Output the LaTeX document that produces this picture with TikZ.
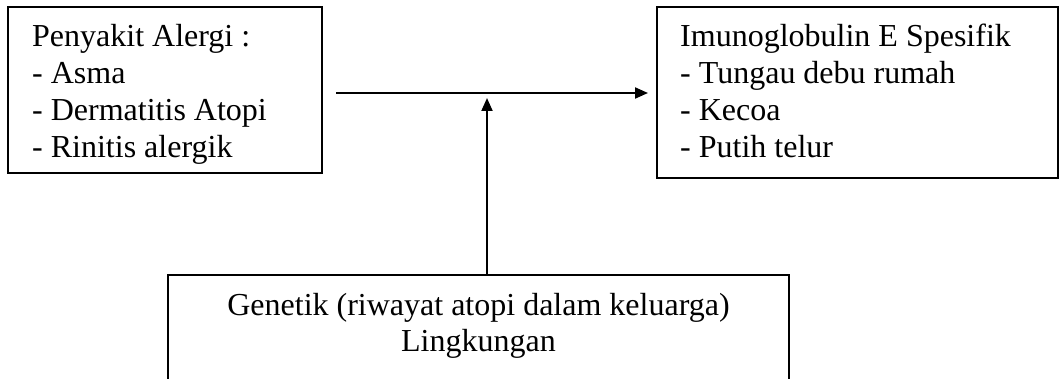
\documentclass[tikz,border=0pt]{standalone}
\usepackage{fontspec}
\setmainfont{Liberation Serif}
\usetikzlibrary{arrows.meta}
\tikzset{
  box/.style={draw, line width=2pt, rectangle, inner sep=0pt},
  txt/.style={inner sep=0pt, font=\fontsize{32}{36.7}\selectfont},
  arr/.style={line width=2pt, -{Triangle[length=13pt,width=11pt]}}
}
\begin{document}
\begin{tikzpicture}[x=1pt, y=-1pt]
  % page frame; the lower box runs off the bottom edge
  \path[use as bounding box, clip] (0,0) rectangle (1062,379);

  % boxes
  \node[box, minimum width=314pt, minimum height=166pt] (alergi) at (165,90) {};
  \node[box, minimum width=401pt, minimum height=171pt] (ige) at (857.5,92.5) {};
  \node[box, minimum width=621pt, minimum height=200pt] (faktor) at (478.5,375) {};

  % box texts
  \node[txt, anchor=base west] (alergitxt) at (32,47)
    {\begin{tabular}[t]{@{}l@{}}Penyakit Alergi :\\- Asma\\- Dermatitis Atopi\\- Rinitis alergik\end{tabular}};
  \node[txt, anchor=base west] (igetxt) at (680,47)
    {\begin{tabular}[t]{@{}l@{}}Imunoglobulin E Spesifik\\- Tungau debu rumah\\- Kecoa\\- Putih telur\end{tabular}};
  \node[txt, anchor=base] (faktortxt) at (478.5,315)
    {\begin{tabular}[t]{@{}c@{}}Genetik (riwayat atopi dalam keluarga)\\Lingkungan\end{tabular}};

  % connectors
  \coordinate (hstart) at (336,93);
  \coordinate (hend) at (648,93);
  \coordinate (vend) at (487,98);
  \draw[arr] (hstart) -- (hend);
  \draw[arr] (faktor.north -| vend) -- (vend);
\end{tikzpicture}
\end{document}
